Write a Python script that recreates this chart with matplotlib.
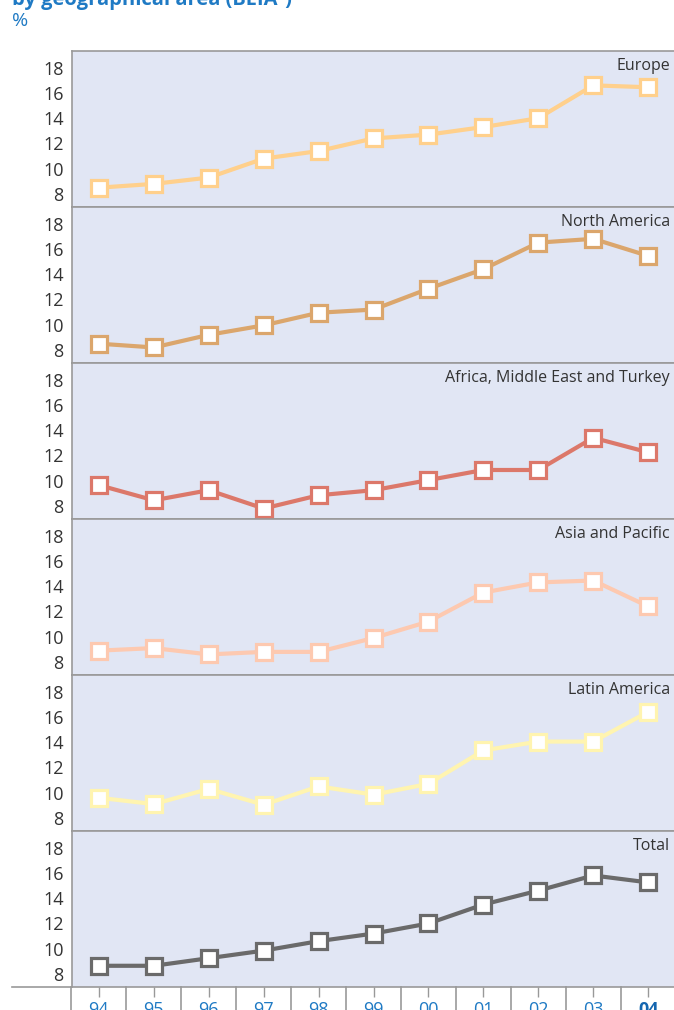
import matplotlib
matplotlib.use("Agg")
import matplotlib.pyplot as plt
from matplotlib.lines import Line2D
import matplotlib.transforms as mtransforms

plt.rcParams['font.family'] = ['Open Sans', 'DejaVu Sans']

YEARS = ["94", "95", "96", "97", "98", "99", "00", "01", "02", "03", "04"]

EUROPE = [8.5, 8.8, 9.3, 10.8, 11.4, 12.4, 12.7, 13.3, 14.0, 16.6, 16.45]
NORTH_AMERICA = [8.5, 8.2, 9.2, 9.95, 10.95, 11.2, 12.85, 14.4, 16.5, 16.8, 15.45]
AFRICA_ME_TURKEY = [9.65, 8.45, 9.25, 7.8, 8.85, 9.25, 10.05, 10.85, 10.85, 13.4, 12.25]
ASIA_PACIFIC = [8.9, 9.1, 8.6, 8.8, 8.8, 9.9, 11.2, 13.5, 14.3, 14.45, 12.4]
LATIN_AMERICA = [9.6, 9.1, 10.3, 9.05, 10.5, 9.85, 10.7, 13.35, 14.05, 14.05, 16.4]
TOTAL = [8.65, 8.65, 9.25, 9.85, 10.6, 11.2, 12.0, 13.5, 14.6, 15.8, 15.25]

SERIES = [EUROPE, NORTH_AMERICA, AFRICA_ME_TURKEY, ASIA_PACIFIC, LATIN_AMERICA, TOTAL]
NAMES = ["Europe", "North America", "Africa, Middle East and Turkey",
         "Asia and Pacific", "Latin America", "Total"]
COLORS = ["#FFD08C", "#DBA66C", "#DC786A", "#FDC9B0", "#FFF4B0", "#6A6A6A"]

W, H = 674, 1010
fig = plt.figure(figsize=(W / 100, H / 100), dpi=100)

x = list(range(len(YEARS)))
panel_h = 156
axes = []
for i, (vals, name, col) in enumerate(zip(SERIES, NAMES, COLORS)):
    top = 51 + panel_h * i
    ax = fig.add_axes([72 / W, 1 - (top + panel_h) / H, (W - 72) / W, panel_h / H])
    ax.set_facecolor("#E1E6F4")
    ax.plot(x, vals, color=col, lw=3.0, marker="s", ms=12,
            mfc="white", mec=col, mew=2.3, solid_joinstyle="miter", zorder=3)
    ax.set_xlim(-0.49, 10.47)
    ax.set_ylim(6.97, 19.32)
    ax.set_yticks([8, 10, 12, 14, 16, 18])
    ax.tick_params(axis="y", length=0, pad=6, labelsize=13, labelcolor="#333333")
    for s in ["top", "bottom", "left"]:
        ax.spines[s].set_color("#999999")
        ax.spines[s].set_linewidth(1.2)
    ax.spines["right"].set_visible(False)
    ax.text(0.993, 0.905, name, transform=ax.transAxes, ha="right", va="center",
            fontsize=11.5, color="#333333")
    if i < 5:
        ax.set_xticks([])
    axes.append(ax)

# bottom axis with year labels (cut by the bottom edge, as in the source)
axb = axes[-1]
axb.spines["bottom"].set_visible(False)
axb.set_xticks(x)
axb.set_xticklabels(YEARS)
axb.tick_params(axis="x", length=7, width=1, color="#999999", pad=3,
                labelsize=13, labelcolor="#1F7AC4", direction="out")
axb.get_xticklabels()[-1].set_fontweight("bold")
axb.get_xticklabels()[-1].set_color("#1466B0")

# separators between years, below the axis
trans = mtransforms.blended_transform_factory(axb.transData, axb.transAxes)
for k in range(len(YEARS)):
    axb.add_line(Line2D([k - 0.5, k - 0.5], [0, -0.2], transform=trans,
                        color="#999999", lw=1.2, clip_on=False))

# long horizontal baseline
fig.add_artist(Line2D([12 / W, 1.0], [1 - 987 / H, 1 - 987 / H],
                      transform=fig.transFigure, color="#999999", lw=1.2))

# title (cut by the top edge) and unit
fig.text(12 / W, 1 - 5 / H, "by geographical area (BEIA\u00b9)", ha="left",
         va="baseline", fontsize=14.5, fontweight="bold", color="#1F7AC4")
fig.text(12 / W, 1 - 21 / H, "%", ha="left", va="center", fontsize=14,
         color="#1F7AC4")

fig.savefig("out.png", dpi=100)
